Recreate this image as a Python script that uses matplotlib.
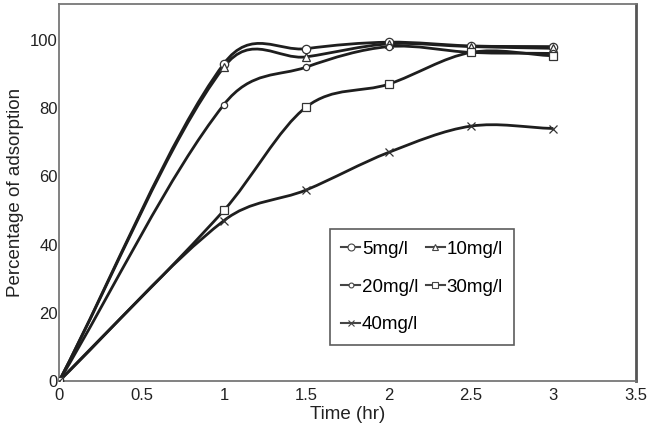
import matplotlib
matplotlib.use("Agg")
import matplotlib.pyplot as plt
from matplotlib.path import Path
from matplotlib.patches import PathPatch
from matplotlib.lines import Line2D
import numpy as np

plt.rcParams["font.family"] = ["Liberation Sans", "DejaVu Sans"]

time_hr = [0, 1, 1.5, 2, 2.5, 3]
ads_5 = [0, 93, 97.4, 99.3, 98.2, 98]
ads_10 = [0, 92, 95, 98.8, 98, 97.5]
ads_20 = [0, 81, 92, 98, 96.3, 96]
ads_30 = [0, 50, 80.3, 87, 96.3, 95.3]
ads_40 = [0, 47, 56, 67, 74.7, 74]

labels = ["5mg/l", "10mg/l", "20mg/l", "30mg/l", "40mg/l"]
series = [ads_5, ads_10, ads_20, ads_30, ads_40]
markers = ["o", "^", "o", "s", "x"]
msizes = [6, 6, 4.5, 6, 6]


def smooth_path(xs, ys):
    # smoothed line drawn as cubic bezier segments through the data points
    xs = np.asarray(xs, float)
    ys = np.asarray(ys, float)
    n = len(xs)
    slopes = np.zeros(n)
    for i in range(n):
        if i == 0:
            slopes[i] = (ys[1] - ys[0]) / (xs[1] - xs[0])
        elif i == n - 1:
            slopes[i] = (ys[i] - ys[i - 1]) / (xs[i] - xs[i - 1])
        else:
            slopes[i] = (ys[i + 1] - ys[i - 1]) / (xs[i + 1] - xs[i - 1])
    verts = [(xs[0], ys[0])]
    codes = [Path.MOVETO]
    for i in range(n - 1):
        h = (xs[i + 1] - xs[i]) / 3.0
        verts += [(xs[i] + h, ys[i] + h * slopes[i]),
                  (xs[i + 1] - h, ys[i + 1] - h * slopes[i + 1]),
                  (xs[i + 1], ys[i + 1])]
        codes += [Path.CURVE4] * 3
    return Path(verts, codes)


fig = plt.figure(figsize=(6.5, 4.4), dpi=100)
ax = fig.add_axes([0.091, 0.134, 0.887, 0.857])

line_col = "#1e1e1e"
for ys, mk, ms in zip(series, markers, msizes):
    ax.add_patch(PathPatch(smooth_path(time_hr, ys), fill=False,
                           edgecolor=line_col, lw=2.0, zorder=2))
    ax.plot(time_hr, ys, linestyle="none", marker=mk, markersize=ms,
            markerfacecolor="white", markeredgecolor="#333333",
            markeredgewidth=0.9, zorder=3)

ax.set_xlim(0, 3.5)
ax.set_ylim(0, 110.5)
ax.set_xticks(np.arange(0, 3.51, 0.5))
ax.set_xticklabels(["0", "0.5", "1", "1.5", "2", "2.5", "3", "3.5"])
ax.set_yticks([0, 20, 40, 60, 80, 100])
ax.tick_params(length=0, labelsize=12, colors="#222222", pad=5)
ax.tick_params(axis="y", pad=1)

for side in ["left", "bottom", "top"]:
    ax.spines[side].set_color("#777777")
    ax.spines[side].set_linewidth(1.3)
ax.spines["right"].set_color("#555555")
ax.spines["right"].set_linewidth(2.0)

ax.set_xlabel("Time (hr)", fontsize=13.5, color="#222222", labelpad=2)
ax.set_ylabel("Percentage of adsorption", fontsize=13.5, color="#222222", labelpad=4)

handles = []
for mk, ms in zip(markers, msizes):
    handles.append(Line2D([], [], color="#444444", lw=1.5, marker=mk, markersize=ms - 1,
                          markerfacecolor="white", markeredgecolor="#444444",
                          markeredgewidth=0.8))
order = [0, 2, 4, 1, 3]
leg = ax.legend([handles[i] for i in order], [labels[i] for i in order],
                ncol=2, loc="upper left", bbox_to_anchor=(0.47, 0.402),
                fontsize=13.5, frameon=True, fancybox=False, handlelength=1.0,
                handletextpad=0.1, columnspacing=0.4, labelspacing=1.1,
                borderpad=0.6, borderaxespad=0)
leg.get_frame().set_edgecolor("#333333")
leg.get_frame().set_linewidth(1.2)

fig.savefig("out.png", dpi=100)
